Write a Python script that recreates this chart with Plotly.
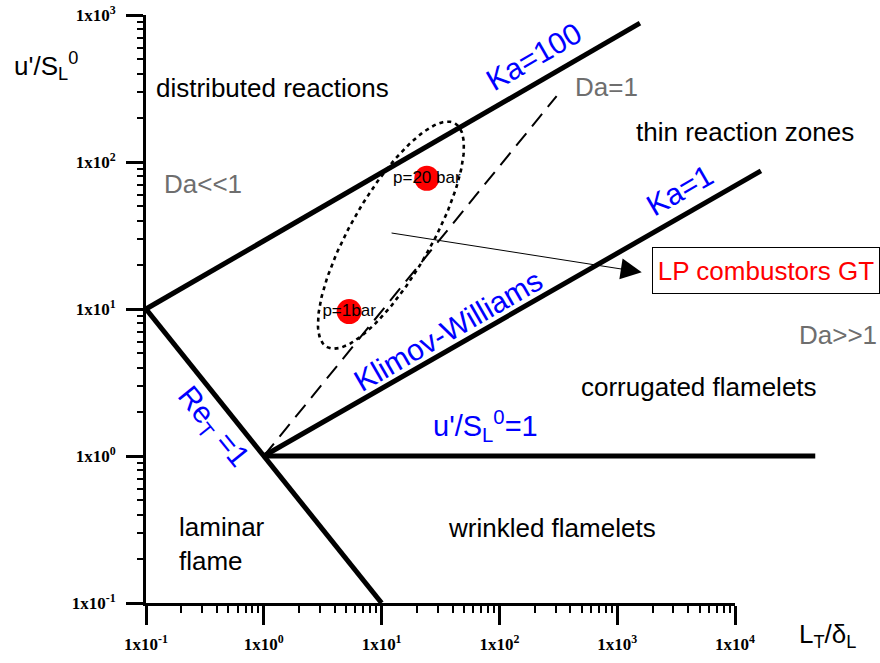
import numpy as np
import plotly.graph_objects as go

# ---------------- data ----------------
re1_x = [0.1, 10]
re1_y = [10, 0.1]
ka100_x = [0.1, 1560]
ka100_y = [10, 880]
ka1_x = [1, 16600]
ka1_y = [1, 87]
u1_x = [1, 48000]
u1_y = [1, 1]
da1_x = [1, 306]
da1_y = [1, 281]

p_x = [5.3, 24.2]
p_y = [9.6, 77.4]
p_labels = ["p=1bar", "p=20 bar"]

# ellipse around the operating points (centre, semi-axes in decades)
ell_center = [12.0, 31.8]
ell_u = [0.545, 0.760]
ell_v = [0.295, -0.139]

arrow_tail = [11.8, 33.0]
arrow_tip = [1615, 17.8]

x_ticks = [0.1, 1, 10, 100, 1000, 10000]
x_tick_text = ["1x10<sup>-1</sup>", "1x10<sup>0</sup>", "1x10<sup>1</sup>",
               "1x10<sup>2</sup>", "1x10<sup>3</sup>", "1x10<sup>4</sup>"]
y_ticks = [0.1, 1, 10, 100, 1000]
y_tick_text = ["1x10<sup>-1</sup>", "1x10<sup>0</sup>", "1x10<sup>1</sup>",
               "1x10<sup>2</sup>", "1x10<sup>3</sup>"]

# ---------------- figure ----------------
W, H = 880, 663
ML, MR, MT, MB = 146, 0, 15, 60
PW, PH = W - ML - MR, H - MT - MB
XDEC = 117.8  # px per decade
x_hi = -1 + PW / XDEC

def px(xp):
    return (xp - ML) / PW

def py(yp):
    return (H - MB - yp) / PH

SANS = "Arial, Liberation Sans, sans-serif"
SERIF = "Times New Roman, Liberation Serif, serif"

fig = go.Figure()

def line(x, y, width=5, dash="solid"):
    fig.add_trace(go.Scatter(x=x, y=y, mode="lines",
                             line=dict(color="black", width=width, dash=dash),
                             hoverinfo="skip", showlegend=False))

line(re1_x, re1_y)
line(ka100_x, ka100_y)
line(ka1_x, ka1_y)
line(u1_x, u1_y)
line(da1_x, da1_y, width=2, dash="16px,9px")

t = np.linspace(0, 2 * np.pi, 200)
lcx, lcy = np.log10(ell_center[0]), np.log10(ell_center[1])
ex = 10 ** (lcx + ell_u[0] * np.cos(t) + ell_v[0] * np.sin(t))
ey = 10 ** (lcy + ell_u[1] * np.cos(t) + ell_v[1] * np.sin(t))
fig.add_trace(go.Scatter(x=ex, y=ey, mode="lines",
                         line=dict(color="black", width=2.6, dash="4px,4px"),
                         hoverinfo="skip", showlegend=False))

fig.add_trace(go.Scatter(x=p_x, y=p_y, mode="markers+text", text=p_labels,
                         textposition="middle center",
                         textfont=dict(family=SANS, size=17, color="black"),
                         marker=dict(color="#ff0000", size=25),
                         hoverinfo="skip", showlegend=False))

# dummy trace for the visible x axis
fig.add_trace(go.Scatter(x=[1], y=[1], xaxis="x2", yaxis="y", mode="markers",
                         marker=dict(opacity=0), hoverinfo="skip", showlegend=False))

minor_x = [m * 10.0 ** e for e in range(-1, 4) for m in range(2, 10)]
minor_y = [m * 10.0 ** e for e in range(-1, 3) for m in range(2, 10)]

fig.update_layout(
    width=W, height=H, autosize=False,
    margin=dict(l=ML, r=MR, t=MT, b=MB, autoexpand=False),
    paper_bgcolor="white", plot_bgcolor="rgba(0,0,0,0)",
    showlegend=False,
    xaxis=dict(type="log", range=[-1, x_hi], domain=[0, 1], visible=False,
               showgrid=False, zeroline=False),
    xaxis2=dict(type="log", range=[-1, 4], domain=[0, (4 + 1) * XDEC / PW],
                anchor="y", showgrid=False, zeroline=False,
                showline=True, linecolor="black", linewidth=3,
                ticks="outside", ticklen=19, tickwidth=2.5, tickcolor="black",
                tickvals=x_ticks, ticktext=["<b>%s</b>" % s for s in x_tick_text],
                tickfont=dict(family=SERIF, size=17, color="black"),
                ticklabelstandoff=5,
                minor=dict(ticks="outside", ticklen=7, tickwidth=2, tickcolor="black",
                           tickvals=minor_x, showgrid=False)),
    yaxis=dict(type="log", range=[-1, 3], domain=[0, 1], anchor="x",
               showgrid=False, zeroline=False,
               showline=True, linecolor="black", linewidth=3,
               ticks="outside", ticklen=17, tickwidth=2.5, tickcolor="black",
               tickvals=y_ticks, ticktext=["<b>%s</b>" % s for s in y_tick_text],
               tickfont=dict(family=SERIF, size=17, color="black"),
               ticklabelstandoff=7,
               minor=dict(ticks="outside", ticklen=6, tickwidth=2, tickcolor="black",
                          tickvals=minor_y, showgrid=False)),
)

def label(text, x, y, size=26, color="black", angle=0, xanchor="center", align="center"):
    fig.add_annotation(text=text, x=px(x), y=py(y), xref="paper", yref="paper",
                       showarrow=False, textangle=angle, xanchor=xanchor, yanchor="middle",
                       align=align, font=dict(family=SANS, size=size, color=color))

BLUE = "#0000ff"
GRAY = "#6e6e6e"

# axis titles
label("u'/S<sub>L</sub><sup>0</sup>", 12, 66, xanchor="left")
label("L<sub>T</sub>/δ<sub>L</sub>", 797, 636, xanchor="left")

# regime names
label("distributed reactions", 272, 88)
label("thin reaction zones", 745, 132)
label("corrugated flamelets", 699, 387)
label("wrinkled flamelets", 552, 528)
label("laminar<br>flame", 177, 544, xanchor="left", align="left")

# Damköhler labels
label("Da<<1", 203, 184, color=GRAY)
label("Da=1", 606, 87, color=GRAY)
label("Da>>1", 838, 335, color=GRAY)

# boundary names
label("Ka=100", 534, 57, size=30, color=BLUE, angle=-30)
label("Ka=1", 679, 190, size=30, color=BLUE, angle=-30)
label("Klimov-Williams", 448, 330, size=30, color=BLUE, angle=-30)
label("Re<sub>T</sub> =1", 213, 427, size=30, color=BLUE, angle=51)
label("u'/S<sub>L</sub><sup>0</sup>=1", 485, 426, size=29, color=BLUE)

# arrow to the box
fig.add_annotation(x=np.log10(arrow_tip[0]), y=np.log10(arrow_tip[1]),
                   ax=np.log10(arrow_tail[0]), ay=np.log10(arrow_tail[1]),
                   xref="x", yref="y", axref="x", ayref="y", text="",
                   showarrow=True, arrowhead=2, arrowsize=4.2, arrowwidth=1,
                   arrowcolor="black")

fig.add_annotation(text="LP combustors GT", x=px(765.5), y=py(270.5),
                   xref="paper", yref="paper", showarrow=False,
                   xanchor="center", yanchor="middle",
                   width=222, height=41, borderpad=2,
                   bordercolor="black", borderwidth=1, bgcolor="white",
                   font=dict(family=SANS, size=26, color="#ff0000"))

fig.write_html("out.html")
